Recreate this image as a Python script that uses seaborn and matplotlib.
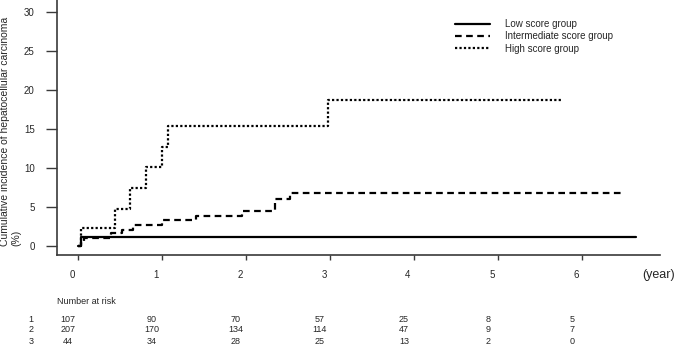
import numpy as np
import pandas as pd
import matplotlib
matplotlib.use("Agg")
import matplotlib.pyplot as plt
from matplotlib.transforms import ScaledTranslation, blended_transform_factory
from matplotlib.lines import Line2D
import seaborn as sns

# --- data ---
low_t = [0.0, 0.03, 6.64]
low_y = [0.0, 1.1, 1.1]

mid_t = [0.0, 0.03, 0.07, 0.39, 0.52, 0.65, 1.0, 1.4, 1.95, 2.35, 2.52, 6.51]
mid_y = [0.0, 0.5, 1.0, 1.7, 2.1, 2.7, 3.3, 3.9, 4.5, 6.0, 6.8, 6.8]

high_t = [0.0, 0.03, 0.44, 0.62, 0.81, 1.0, 1.07, 2.98, 5.77]
high_y = [0.0, 2.3, 4.8, 7.4, 10.1, 12.7, 15.4, 18.7, 18.7]

group_names = ["Low score group", "Intermediate score group", "High score group"]

risk_times = [0, 1, 2, 3, 4, 5, 6]
risk_low = [107, 90, 70, 57, 25, 8, 5]
risk_mid = [207, 170, 134, 114, 47, 9, 7]
risk_high = [44, 34, 28, 25, 13, 2, 0]

x_ticks = [0, 1, 2, 3, 4, 5, 6]
y_ticks = [0, 5, 10, 15, 20, 25, 30]

# --- style ---
sns.set_style("ticks")
plt.rcParams["font.family"] = ["Liberation Sans", "DejaVu Sans"]

fig = plt.figure(figsize=(6.76, 3.45), dpi=100)
ax = fig.add_axes([57 / 676, 90 / 345, 603 / 676, 255 / 345])

styles = [
    dict(linestyle="-"),
    dict(linestyle=(0, (3, 2))),
    dict(linestyle=(0, (1, 1))),
]
series = [(low_t, low_y), (mid_t, mid_y), (high_t, high_y)]
handles = []
for (t, y), st, name in zip(series, styles, group_names):
    df = pd.DataFrame({"time": t, "inc": y})
    sns.lineplot(data=df, x="time", y="inc", ax=ax, color="black",
                 drawstyle="steps-post", estimator=None, lw=1.6, **st)
    handles.append(Line2D([], [], color="black", lw=1.6, **st))

ax.set_xlim(-0.25, 6.93)
ax.set_ylim(-1.15, 31.5)
ax.set_xticks(x_ticks)
ax.set_yticks(y_ticks)
ax.set_xlabel("")
ax.set_ylabel("")
for s in ["top", "right"]:
    ax.spines[s].set_visible(False)
for s in ["left", "bottom"]:
    ax.spines[s].set_color("#3a3a3a")
    ax.spines[s].set_linewidth(1.2)
ax.tick_params(axis="x", length=3.5, width=1, color="#3a3a3a", pad=7, labelsize=7)
ax.tick_params(axis="y", length=8, width=1, color="#3a3a3a", pad=8, labelsize=7)

# R output puts x tick labels slightly left of the tick marks
shift = ScaledTranslation(-6 / 100, 0, fig.dpi_scale_trans)
for lbl in ax.get_xticklabels():
    lbl.set_transform(lbl.get_transform() + shift)

fig.text(642 / 676, 1 - 275 / 345, "(year)", fontsize=9, va="center", ha="left")

fig.text(0.0, 1 - 246 / 345,
         "Cumulative incidence of hepatocellular carcinoma\n(%)",
         rotation=90, ha="left", va="bottom", multialignment="left", fontsize=7.5)

ax.legend(handles, group_names, loc="upper left", frameon=False,
          bbox_to_anchor=(455 / 676, 1 - 19 / 345), bbox_transform=fig.transFigure,
          fontsize=7, handlelength=3.6, handletextpad=1.5, labelspacing=0.25,
          borderaxespad=0, borderpad=0)

# number at risk table
fig.text(57 / 676, 1 - 302 / 345, "Number at risk", fontsize=6.5, va="center")
trans = blended_transform_factory(ax.transData, fig.transFigure) + \
    ScaledTranslation(-10 / 100, 0, fig.dpi_scale_trans)
for row, (lab, vals) in enumerate(zip(["1", "2", "3"], [risk_low, risk_mid, risk_high])):
    yy = 1 - (319 + 11 * row) / 345
    fig.text(31 / 676, yy, lab, fontsize=6.5, va="center", ha="center")
    for t, v in zip(risk_times, vals):
        ax.text(t, yy, str(v), transform=trans, fontsize=6.5, va="center", ha="center")

fig.savefig("out.png", dpi=100)
